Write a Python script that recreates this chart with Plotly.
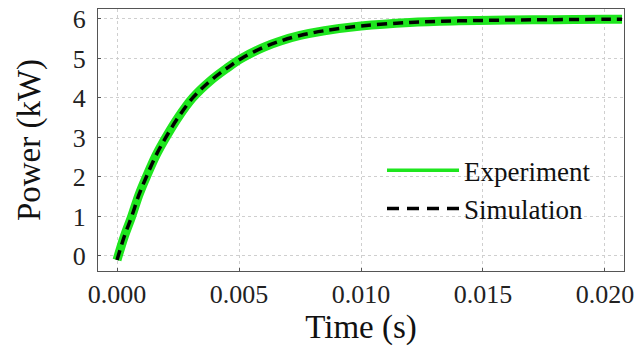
import plotly.graph_objects as go

# Data
t_exp = [0, 0.0003, 0.0006, 0.0009, 0.0012, 0.0016, 0.002, 0.0025, 0.0031, 0.0038,
         0.0045, 0.0051, 0.006, 0.0067, 0.0075, 0.0085, 0.01, 0.012, 0.014, 0.016,
         0.018, 0.020, 0.0207]
p_exp = [-0.1, 0.5, 1.0, 1.55, 2.0, 2.55, 3.0, 3.5, 4.0, 4.42,
         4.75, 5.0, 5.28, 5.44, 5.58, 5.70, 5.82, 5.91, 5.95, 5.97,
         5.98, 5.99, 5.99]
t_sim = [0, 0.0003, 0.0006, 0.0009, 0.0012, 0.0016, 0.002, 0.0025, 0.0031, 0.0038,
         0.0045, 0.0051, 0.006, 0.0067, 0.0075, 0.0085, 0.01, 0.012, 0.014, 0.016,
         0.018, 0.020, 0.0207]
p_sim = [-0.1, 0.5, 1.0, 1.55, 2.0, 2.55, 3.0, 3.5, 4.0, 4.42,
         4.75, 5.0, 5.28, 5.44, 5.58, 5.70, 5.82, 5.91, 5.95, 5.97,
         5.98, 5.99, 5.99]
x_ticks = [0.0, 0.005, 0.010, 0.015, 0.020]
y_ticks = [0, 1, 2, 3, 4, 5, 6]

FONT = "Liberation Serif"
GREEN = "#1EE61E"

fig = go.Figure()
fig.add_trace(go.Scatter(x=t_exp, y=p_exp, mode="lines", name="Experiment",
                         line=dict(color=GREEN, width=9, shape="spline"),
                         showlegend=False))
fig.add_trace(go.Scatter(x=t_sim, y=p_sim, mode="lines", name="Simulation",
                         line=dict(color="black", width=3.5, dash="10px,6px", shape="spline"),
                         showlegend=False))
fig.add_trace(go.Scatter(x=[None], y=[None], mode="lines", name="Experiment",
                         line=dict(color=GREEN, width=3.5)))
fig.add_trace(go.Scatter(x=[None], y=[None], mode="lines", name="Simulation",
                         line=dict(color="black", width=3.5, dash="12px,8px")))

axis_common = dict(showline=True, mirror=True, linecolor="#555555", linewidth=1,
                   ticks="inside", ticklen=3, tickcolor="#555555",
                   showgrid=True, gridcolor="#cfcfcf", griddash="dot", gridwidth=1,
                   zeroline=False, ticklabeloverflow="allow", automargin=False,
                   tickfont=dict(family=FONT, size=26, color="#222222"))

fig.update_xaxes(range=[-0.00078, 0.02078], tickvals=x_ticks, tickformat=".3f",
                 title=dict(text="Time (s)", standoff=3,
                            font=dict(family=FONT, size=33, color="#111111")),
                 **axis_common)
fig.update_yaxes(range=[-0.38, 6.25], tickvals=y_ticks, ticklabelstandoff=6,
                 title=dict(text="Power (kW)", standoff=22,
                            font=dict(family=FONT, size=33, color="#111111")),
                 **axis_common)

fig.update_layout(
    template="none",
    width=638, height=350,
    margin=dict(l=98, r=14, t=9, b=79, autoexpand=False),
    font=dict(family=FONT, size=26, color="#222222"),
    plot_bgcolor="white", paper_bgcolor="white",
    showlegend=True,
    legend=dict(x=(382 - 98) / 526, y=0.31, xanchor="left", yanchor="middle",
                bgcolor="rgba(0,0,0,0)", borderwidth=0, itemwidth=72,
                font=dict(family=FONT, size=27, color="#111111")),
)

fig.write_html("out.html")
